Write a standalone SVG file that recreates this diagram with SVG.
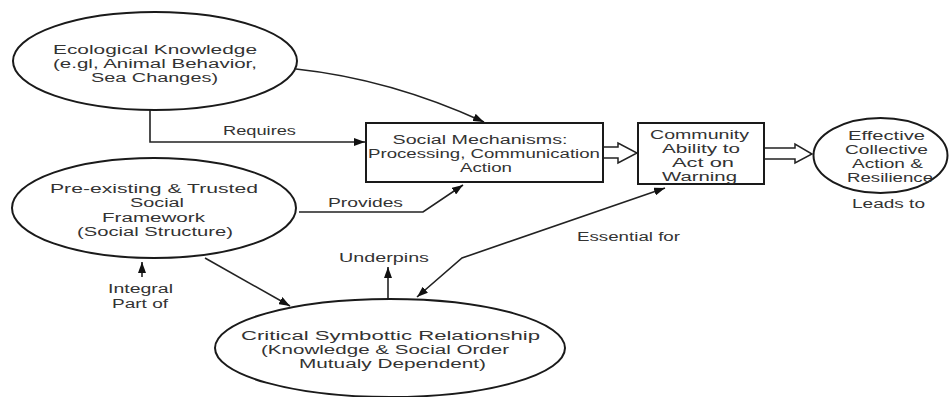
<svg xmlns="http://www.w3.org/2000/svg" width="949" height="397" viewBox="0 0 949 397">
<style>
.shape{fill:#fff;stroke:#1a1a1a;stroke-width:2}
.edge{fill:none;stroke:#222;stroke-width:1.6}
.hollow{fill:#fff;stroke:#222;stroke-width:1.5}
text{font-family:"Liberation Sans",Arial,sans-serif;font-size:12px;fill:#333;text-anchor:middle}
</style>
<defs>
<marker id="ah" markerUnits="userSpaceOnUse" markerWidth="11" markerHeight="8" refX="11" refY="4" orient="auto-start-reverse" viewBox="0 0 11 8">
<path d="M0,0 L11,4 L0,8 z" fill="#111"/>
</marker>
</defs>
<rect width="949" height="397" fill="#fff"/>
<g id="connectors">
<path class="edge" d="M150,110 V142 H365" marker-end="url(#ah)"/>
<path class="edge" d="M296,69 Q390,79 484,122" marker-end="url(#ah)"/>
<path class="edge" d="M299,212 H423 L463,185" marker-end="url(#ah)"/>
<path class="edge" d="M665,188 L462,258 L417,297" marker-start="url(#ah)" marker-end="url(#ah)"/>
<path class="edge" d="M205,258 L290,306" marker-end="url(#ah)"/>
<path class="edge" d="M388,300 V267" marker-end="url(#ah)"/>
<path class="edge" d="M142,277 V262" marker-end="url(#ah)"/>
<path class="hollow" d="M603,147 H618 V143 L637,153 L618,163 V158 H603"/>
<path class="hollow" d="M764,148 H795 V144 L812,154 L795,163 V159 H764"/>
<text x="259.5" y="135" textLength="73" lengthAdjust="spacingAndGlyphs">Requires</text>
<text x="365.5" y="207" textLength="75" lengthAdjust="spacingAndGlyphs">Provides</text>
<text x="628.5" y="241" textLength="103" lengthAdjust="spacingAndGlyphs">Essential for</text>
<text x="384" y="262" textLength="90" lengthAdjust="spacingAndGlyphs">Underpins</text>
<text x="140.5" y="293" textLength="65" lengthAdjust="spacingAndGlyphs">Integral</text>
<text x="140" y="308" textLength="56" lengthAdjust="spacingAndGlyphs">Part of</text>
<text x="888.5" y="208" textLength="73" lengthAdjust="spacingAndGlyphs">Leads to</text>
</g>
<g id="ecological">
<ellipse class="shape" cx="155" cy="61" rx="142" ry="49"/>
<text x="155" y="54" textLength="204" lengthAdjust="spacingAndGlyphs">Ecological Knowledge</text>
<text x="155" y="68" textLength="204" lengthAdjust="spacingAndGlyphs">(e.gl, Animal Behavior,</text>
<text x="154.5" y="82" textLength="127" lengthAdjust="spacingAndGlyphs">Sea Changes)</text>
</g>
<g id="social-mechanisms">
<rect class="shape" x="366" y="123" width="237" height="59"/>
<text x="480" y="144" textLength="175" lengthAdjust="spacingAndGlyphs">Social Mechanisms:</text>
<text x="484" y="158" textLength="232" lengthAdjust="spacingAndGlyphs">Processing, Communication</text>
<text x="486" y="172" textLength="52" lengthAdjust="spacingAndGlyphs">Action</text>
</g>
<g id="community">
<rect class="shape" x="638" y="123" width="126" height="61"/>
<text x="699.5" y="139" textLength="99" lengthAdjust="spacingAndGlyphs">Community</text>
<text x="701" y="153" textLength="78" lengthAdjust="spacingAndGlyphs">Ability to</text>
<text x="703" y="167" textLength="62" lengthAdjust="spacingAndGlyphs">Act on</text>
<text x="699.5" y="181" textLength="75" lengthAdjust="spacingAndGlyphs">Warning</text>
</g>
<g id="effective">
<ellipse class="shape" cx="880.5" cy="155.5" rx="67" ry="37.5"/>
<text x="886.5" y="140" textLength="77" lengthAdjust="spacingAndGlyphs">Effective</text>
<text x="886.5" y="154" textLength="83" lengthAdjust="spacingAndGlyphs">Collective</text>
<text x="887.5" y="168" textLength="71" lengthAdjust="spacingAndGlyphs">Action &amp;</text>
<text x="890" y="182" textLength="86" lengthAdjust="spacingAndGlyphs">Resilience</text>
</g>
<g id="pre-existing">
<ellipse class="shape" cx="154" cy="208" rx="142" ry="50"/>
<text x="154" y="193" textLength="208" lengthAdjust="spacingAndGlyphs">Pre-existing &amp; Trusted</text>
<text x="157" y="207" textLength="54" lengthAdjust="spacingAndGlyphs">Social</text>
<text x="153.5" y="222" textLength="103" lengthAdjust="spacingAndGlyphs">Framework</text>
<text x="155" y="236" textLength="156" lengthAdjust="spacingAndGlyphs">(Social Structure)</text>
</g>
<g id="critical">
<ellipse class="shape" cx="390" cy="348" rx="175" ry="49"/>
<text x="390.5" y="340" textLength="299" lengthAdjust="spacingAndGlyphs">Critical Symbottic Relationship</text>
<text x="385" y="354" textLength="248" lengthAdjust="spacingAndGlyphs">(Knowledge &amp; Social Order</text>
<text x="392.5" y="368" textLength="187" lengthAdjust="spacingAndGlyphs">Mutualy Dependent)</text>
</g>
</svg>
